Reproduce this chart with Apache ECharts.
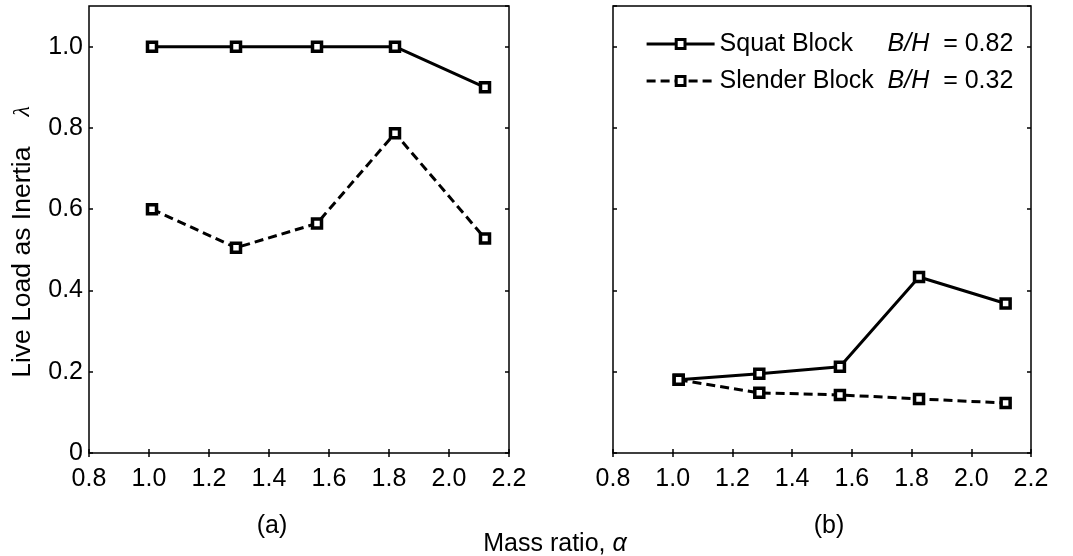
<!DOCTYPE html>
<html>
<head>
<meta charset="utf-8">
<script src="https://cdn.jsdelivr.net/npm/echarts@6/dist/echarts.min.js"></script>
<style>
html,body{margin:0;padding:0;background:#fff;}
#c{width:1073px;height:556px;}
</style>
</head>
<body>
<div id="c"></div>
<script>
// ---- data ----
const alphaA = [1.01, 1.29, 1.56, 1.82, 2.12];
const squatA = [1.0, 1.0, 1.0, 1.0, 0.9];
const slenderA = [0.6, 0.505, 0.565, 0.787, 0.528];
const alphaB = [1.02, 1.29, 1.56, 1.825, 2.115];
const squatB = [0.18, 0.195, 0.212, 0.433, 0.368];
const slenderB = [0.18, 0.148, 0.143, 0.133, 0.123];
const seriesNames = ['Squat Block', 'Slender Block'];
const ratioText = ['0.82', '0.32'];
const panelLabels = ['(a)', '(b)'];
const xTitle = 'Mass ratio, ';
const yTitle = 'Live Load as Inertia';

const FONT = 'Liberation Sans, Arial, sans-serif';
const FS = 25;

function pairs(xs, ys){ return xs.map((x,i)=>[x, ys[i]]); }

const chart = echarts.init(document.getElementById('c'), null, {renderer:'canvas'});

function xAx(grid, pos, labels){
  return {
    type:'value', gridIndex:grid, position:pos, min:0.8, max:2.2, interval:0.2,
    axisLine:{show:false},
    axisTick:{show:true, inside:true, length:4, lineStyle:{color:'#000', width:1.5}},
    axisLabel:{show:labels, color:'#000', fontFamily:FONT, fontSize:FS, margin:14,
      formatter:v=>v.toFixed(1)},
    splitLine:{show:false}
  };
}
function yAx(grid, pos, labels, name){
  const a = {
    type:'value', gridIndex:grid, position:pos, min:0, max:1.1, interval:0.2,
    axisLine:{show:false},
    axisTick:{show:true, inside:true, length:4, lineStyle:{color:'#000', width:1.5}},
    axisLabel:{show:labels, color:'#000', fontFamily:FONT, fontSize:FS, margin:6,
      showMaxLabel:false,
      formatter:v=> v===0 ? '0' : (Math.abs(v*5-Math.round(v*5))<1e-6 ? v.toFixed(1) : '')},
    splitLine:{show:false}
  };
  if (name){
    a.name = '{a|' + yTitle + '}{b|λ}{c|}';
    a.nameLocation = 'middle';
    a.nameGap = 53;
    a.nameTextStyle = {
      rich:{
        a:{fontFamily:FONT, fontSize:26.5, color:'#000'},
        b:{fontFamily:'Liberation Serif, serif', fontStyle:'italic', fontSize:24, color:'#000', padding:[0,0,0,30]},
        c:{width:25}
      }
    };
  }
  return a;
}

const lineBase = {
  type:'line', symbol:'rect', symbolSize:9, showSymbol:true,
  itemStyle:{color:'#fff', borderColor:'#000', borderWidth:3.5},
  animation:false
};
function ser(name, dash, xi, yi, data){
  return Object.assign({}, lineBase, {
    name:name, xAxisIndex:xi, yAxisIndex:yi, data:data,
    lineStyle:{color:'#000', width:3, type: dash ? [9,5] : 'solid'}
  });
}

const option = {
  animation:false,
  backgroundColor:'#fff',
  grid:[
    {left:89, right:1073-509, top:6, bottom:556-453, show:true, borderColor:'#000', borderWidth:1.5, backgroundColor:'#fff'},
    {left:613, right:1073-1031, top:6, bottom:556-453, show:true, borderColor:'#000', borderWidth:1.5, backgroundColor:'#fff'}
  ],
  xAxis:[ xAx(0,'bottom',true), xAx(0,'top',false), xAx(1,'bottom',true), xAx(1,'top',false) ],
  yAxis:[ yAx(0,'left',true,true), yAx(0,'right',false,false), yAx(1,'left',false,false), yAx(1,'right',false,false) ],
  legend:{
    data:seriesNames, orient:'vertical', left:640, top:25, itemWidth:68, itemHeight:11, itemGap:9,
    lineStyle:{width:3.2},
    itemStyle:{borderWidth:3},
    formatter:function(n){
      const i = seriesNames.indexOf(n);
      return '{m|' + n + '}{i|B/H}{n|  = ' + ratioText[i] + '}';
    },
    textStyle:{
      color:'#000', fontFamily:FONT, fontSize:25, lineHeight:28,
      rich:{
        m:{fontFamily:FONT, fontSize:25, color:'#000', lineHeight:28, width:168},
        n:{fontFamily:FONT, fontSize:25, color:'#000', lineHeight:28},
        i:{fontFamily:FONT, fontSize:25, fontStyle:'italic', color:'#000', lineHeight:28}
      }
    }
  },
  series:[
    ser(seriesNames[0], false, 0, 0, pairs(alphaA, squatA)),
    ser(seriesNames[1], true, 0, 0, pairs(alphaA, slenderA)),
    ser(seriesNames[0], false, 2, 2, pairs(alphaB, squatB)),
    ser(seriesNames[1], true, 2, 2, pairs(alphaB, slenderB))
  ],
  graphic:[
    {type:'text', x:272, y:526, style:{text:panelLabels[0], fontFamily:FONT, fontSize:FS, fill:'#000', align:'center', verticalAlign:'middle'}},
    {type:'text', x:829, y:526, style:{text:panelLabels[1], fontFamily:FONT, fontSize:FS, fill:'#000', align:'center', verticalAlign:'middle'}},
    {type:'text', x:555, y:544, style:{
      text:'{a|' + xTitle + '}{b|α}', align:'center', verticalAlign:'middle',
      rich:{a:{fontFamily:FONT, fontSize:FS, color:'#000'}, b:{fontFamily:FONT, fontStyle:'italic', fontSize:FS, color:'#000'}}
    }}
  ]
};
chart.setOption(option);
</script>
</body>
</html>
